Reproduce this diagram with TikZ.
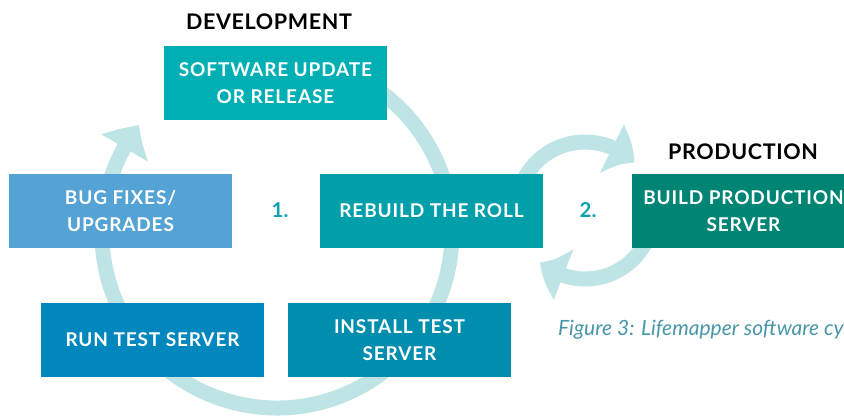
\documentclass[tikz,border=0pt]{standalone}
\usepackage{fontspec}
\setmainfont{Lato}
\newfontfamily\boxfont{Lato}[LetterSpace=4.5]
\newfontfamily\headfont{Lato}[LetterSpace=3]
\usetikzlibrary{arrows.meta,bending}

\definecolor{ringcol}{HTML}{BFE4E5}
\definecolor{swcol}{HTML}{00AFB3}
\definecolor{bugcol}{HTML}{54A3D4}
\definecolor{rebuildcol}{HTML}{009FAA}
\definecolor{prodcol}{HTML}{008575}
\definecolor{runcol}{HTML}{0087BE}
\definecolor{installcol}{HTML}{008DAE}
\definecolor{numcol}{HTML}{11A0B2}
\definecolor{capcol}{HTML}{4896A8}

\tikzset{
  ring/.style={draw=ringcol, line width=15pt,
    -{Triangle[width=52pt,length=27pt,bend]}, ringcol},
  stagebox/.style={minimum width=223pt, minimum height=74pt, inner sep=0pt,
    text=white, align=center, font=\boxfont\bfseries\fontsize{19}{27}\selectfont},
  phase/.style={font=\headfont\bfseries\fontsize{21.5}{26}\selectfont, text=black},
  stepnum/.style={font=\bfseries\fontsize{20.5}{24}\selectfont, text=numcol},
  caption/.style={font=\itshape\fontsize{21}{25}\selectfont, text=capcol,
    anchor=base west, inner sep=0pt}
}

\begin{document}
\begin{tikzpicture}[x=1pt, y=-1pt]
\useasboundingbox (0,0) rectangle (844,418);
\clip (0,0) rectangle (844,418);

% centres of the two cycles
\coordinate (devc) at (277,233);
\coordinate (prodc) at (585,210.5);

% development cycle ring
\draw[ring] (devc) ++(-80:175) arc[start angle=-80, end angle=218, radius=175];
% production loop: out to production and back
\draw[ring] (prodc) ++(180:68.5) arc[start angle=180, end angle=316, radius=68.5];
\draw[ring] (prodc) ++(0:68.5) arc[start angle=0, end angle=131, radius=68.5];

% stages
\node[stagebox, fill=swcol] (sw) at (275.5,83) {SOFTWARE UPDATE\\OR RELEASE};
\node[stagebox, fill=bugcol] (bug) at (120.5,211) {BUG FIXES/\\UPGRADES};
\node[stagebox, fill=rebuildcol] (rebuild) at (431.5,211) {REBUILD THE ROLL};
\node[stagebox, fill=prodcol] (prod) at (743.5,211) {BUILD PRODUCTION\\SERVER};
\node[stagebox, fill=runcol] (run) at (152.5,340) {RUN TEST SERVER};
\node[stagebox, fill=installcol] (install) at (399.5,340) {INSTALL TEST\\SERVER};

% phase headings and step numbers
\node[phase] (dev) at (269,22) {DEVELOPMENT};
\node[phase] (prodlbl) at (743,152) {PRODUCTION};
\node[stepnum] (one) at (280,210) {1.};
\node[stepnum] (two) at (588,210) {2.};

% caption
\node[caption] (cap) at (558,335) {Figure 3: Lifemapper software cy};
\end{tikzpicture}
\end{document}
